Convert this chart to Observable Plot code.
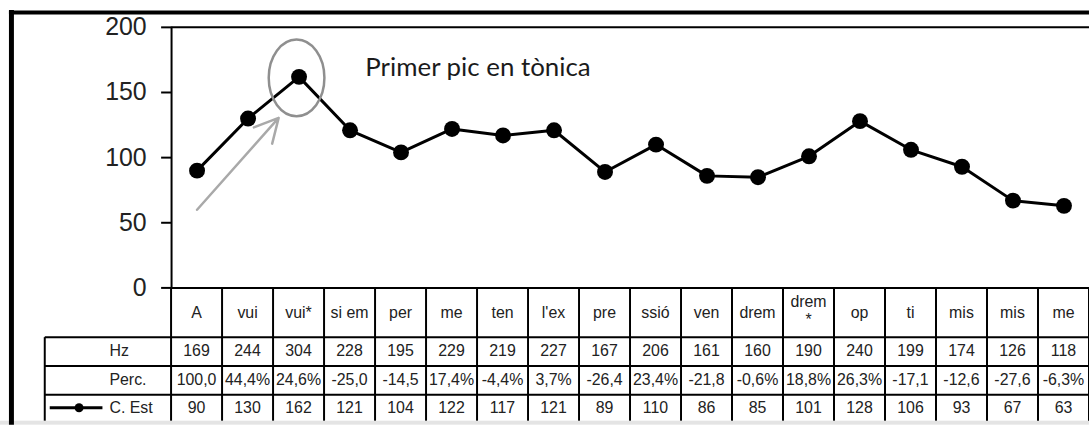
<!DOCTYPE html>
<html><head><meta charset="utf-8">
<script src="https://cdn.jsdelivr.net/npm/d3@7"></script>
<script src="https://cdn.jsdelivr.net/npm/@observablehq/plot@0.6"></script>
<style>
html,body{margin:0;padding:0;background:#fff;overflow:hidden;width:1089px;height:427px;}
#chart{position:relative;width:1089px;height:427px;overflow:hidden;}
#chart svg{display:block;}
</style></head><body><div id="chart"></div>
<script>
const syllables = ["A","vui","vui*","si em","per","me","ten","l'ex","pre","ssió","ven","drem","drem\n*","op","ti","mis","mis","me"];
const hz = [169,244,304,228,195,229,219,227,167,206,161,160,190,240,199,174,126,118];
const perc = ["100,0","44,4%","24,6%","-25,0","-14,5","17,4%","-4,4%","3,7%","-26,4","23,4%","-21,8","-0,6%","18,8%","26,3%","-17,1","-12,6","-27,6","-6,3%"];
const cEst = [90,130,162,121,104,122,117,121,89,110,86,85,101,128,106,93,67,63];
const yTicks = [0,50,100,150,200];
const rowLabels = ["Hz","Perc.","C. Est"];
const annotationText = "Primer pic en tònica";
const peakIndex = 2;

const data = cEst.map((v, i) => ({i, v}));
const n = syllables.length;

const W = 1095, H = 427;
const mL = 172, mT = 27, mB = 138;

const chart = Plot.plot({
  width: W, height: H,
  marginLeft: mL, marginRight: 0, marginTop: mT, marginBottom: mB,
  x: {type: "linear", domain: [-0.5, n - 0.5], axis: null},
  y: {domain: [0, 200], axis: null},
  style: {fontFamily: "'Liberation Sans', Arial, sans-serif", background: "#fff", overflow: "visible", color: "#111"},
  marks: [
    Plot.ruleY([200], {stroke: "#000", strokeWidth: 2}),
    Plot.ruleY([0], {stroke: "#000", strokeWidth: 2}),
    Plot.ruleX([-0.5], {y1: 0, y2: 200, stroke: "#000", strokeWidth: 2}),
    Plot.axisY(yTicks, {tickSize: 10, tickPadding: 15, fontSize: 25, label: null, stroke: "#000", strokeWidth: 2, fill: "#222", tickFormat: d => String(d)}),
    Plot.arrow([{x1: 0, y1: 60, x2: 1.6, y2: 130.5}], {x1: "x1", y1: "y1", x2: "x2", y2: "y2", stroke: "#a9a9a9", strokeWidth: 2.5, headLength: 16, headAngle: 55}),
    Plot.line(data, {x: "i", y: "v", stroke: "#000", strokeWidth: 3}),
    Plot.dot(data, {x: "i", y: "v", r: 8, fill: "#000", stroke: "none"}),
    Plot.text([annotationText], {x: () => 3.3, y: () => 162.6, text: d => d, textAnchor: "start", lineAnchor: "bottom", fontSize: 26, fontFamily: "Lato, 'Open Sans', sans-serif", fill: "#1b1b1b"})
  ]
});

const xs = chart.scale("x"), ys = chart.scale("y");
const svg = d3.select(chart);
const colW = (xs.apply(n - 0.5) - xs.apply(-0.5)) / n;
const x0 = xs.apply(-0.5);
const xEnd = xs.apply(n - 0.5);

// ellipse around the peak
svg.append("ellipse")
  .attr("cx", xs.apply(peakIndex) - 2).attr("cy", ys.apply(cEst[peakIndex]) + 1.5)
  .attr("rx", 28).attr("ry", 38.5)
  .attr("fill", "none").attr("stroke", "#8f8f8f").attr("stroke-width", 2.5);

// table
const g = svg.append("g");
const yHeadTop = ys.apply(0), yR1 = 339, yR2 = 368, yR3 = 397, yBot = 423;
const labelLeft = 45;
// light bottom band
g.append("rect").attr("x", 0).attr("y", yBot).attr("width", W).attr("height", 4).attr("fill", "#e4e4e4");
const line = (x1, y1, x2, y2) => g.append("line").attr("x1", x1).attr("y1", y1).attr("x2", x2).attr("y2", y2).attr("stroke", "#000").attr("stroke-width", 2);
for (let k = 0; k <= n; k++) {
  const xx = x0 + k * colW;
  line(xx, yHeadTop, xx, yBot);
}
[yR1, yR2, yR3].forEach(yy => line(labelLeft, yy, xEnd, yy));
line(labelLeft, yR1, labelLeft, yBot);

const tfont = "'Liberation Sans', Arial, sans-serif";
const txt = (x, y, s, anchor = "middle") => g.append("text").attr("x", x).attr("y", y).attr("text-anchor", anchor)
  .attr("font-family", tfont).attr("font-size", 16).attr("fill", "#222").text(s);

syllables.forEach((s, i) => {
  const cx = xs.apply(i);
  const parts = s.split("\n");
  if (parts.length === 1) txt(cx, 320, s);
  else { txt(cx, 309, parts[0]); txt(cx, 327, parts[1]); }
  txt(cx, 358, String(hz[i]));
  txt(cx, 387, perc[i]);
  txt(cx, 415, String(cEst[i]));
});
rowLabels.forEach((s, j) => txt(110, [358, 387, 415][j], s, "start"));
// legend key in the C. Est row
line(50, 410, 103, 410).attr("stroke-width", 3);
g.append("circle").attr("cx", 79.5).attr("cy", 410).attr("r", 4.5).attr("fill", "#000");

// outer frame
svg.append("line").attr("x1", 11.5).attr("y1", 10).attr("x2", 11.5).attr("y2", H).attr("stroke", "#000").attr("stroke-width", 5);
svg.append("line").attr("x1", 9).attr("y1", 12.5).attr("x2", W).attr("y2", 12.5).attr("stroke", "#000").attr("stroke-width", 4);

document.getElementById("chart").appendChild(chart);
</script></body></html>
